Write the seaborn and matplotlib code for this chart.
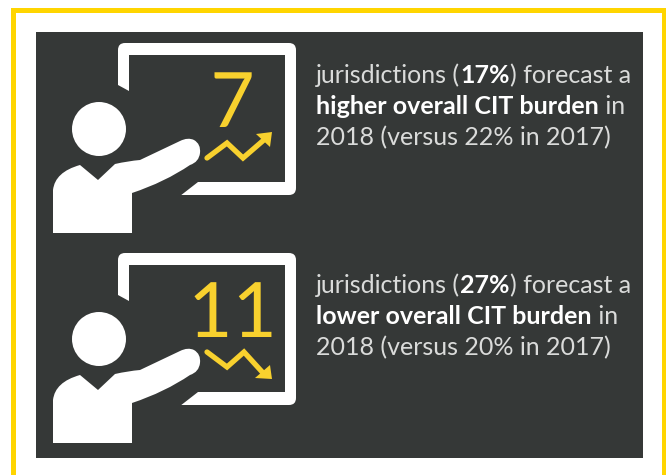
import matplotlib
matplotlib.use('Agg')
import matplotlib.pyplot as plt
import matplotlib.patheffects as pe
from matplotlib.patches import Circle, FancyBboxPatch, PathPatch, Polygon, Rectangle
from matplotlib.path import Path
import seaborn as sns

# --- Data ---
counts = ['7', '11']
pct_2018 = [17, 27]
pct_2017 = [22, 20]
directions = ['higher', 'lower']

up_x = [207, 227, 243, 265]
up_y = [158, 143, 158, 139]
down_x = [207, 227, 244, 264]
down_y = [352, 367, 352, 374]

DARK = '#353837'
YELLOW = '#F8D12E'
BORDER = '#FFD500'
TEXT = '#DADBDA'
ROW_STEP = 210
TEXT_SIZE = 18

sns.set_theme(style='white')
plt.rcParams['font.family'] = ['Lato', 'DejaVu Sans']

fig = plt.figure(figsize=(6.66, 4.75), dpi=100, facecolor='white')
ax = fig.add_axes([0, 0, 1, 1])
ax.set_xlim(0, 666)
ax.set_ylim(475, 0)
ax.axis('off')

# Yellow frame, open at the bottom, and the dark panel
ax.add_patch(Rectangle((11, 8), 655, 5, color=BORDER, lw=0))
ax.add_patch(Rectangle((11, 8), 5, 467, color=BORDER, lw=0))
ax.add_patch(Rectangle((662, 8), 4, 467, color=BORDER, lw=0))
ax.add_patch(Rectangle((36, 32), 607, 426, color=DARK, lw=0))


def draw_icon(dy):
    # Board outline, cut away around the presenter
    ax.add_patch(FancyBboxPatch((122, 47 + dy), 170, 144, boxstyle='round,pad=4,rounding_size=7',
                                fc='white', ec='none', zorder=2))
    ax.add_patch(Rectangle((129, 55 + dy), 156, 127, color=DARK, lw=0, zorder=3))
    ax.add_patch(Polygon([(110, 85 + dy), (118, 85 + dy), (129, 91 + dy), (129, 182 + dy),
                          (198, 182 + dy), (180, 196 + dy), (110, 200 + dy)],
                         color=DARK, lw=0, zorder=3))
    # Presenter
    ax.add_patch(Circle((99, 129 + dy), 27, fc='white', ec='none', zorder=4))
    verts = [(53, 233), (53, 190), (55, 172), (80, 165), (98, 180), (115, 164), (128, 161),
             (140, 160), (180, 141), (188, 137), (194, 140), (201, 144), (200, 153), (199, 162),
             (190, 165), (165, 182), (132, 193), (132, 233), (53, 233)]
    codes = [Path.MOVETO, Path.LINETO, Path.CURVE3, Path.CURVE3, Path.LINETO, Path.LINETO,
             Path.CURVE3, Path.CURVE3, Path.LINETO, Path.CURVE3, Path.CURVE3, Path.CURVE3,
             Path.CURVE3, Path.CURVE3, Path.CURVE3, Path.CURVE3, Path.CURVE3, Path.LINETO,
             Path.CLOSEPOLY]
    verts = [(x, y + dy) for x, y in verts]
    ax.add_patch(PathPatch(Path(verts, codes), fc='white', ec='none', zorder=4))


def text_width(piece, weight):
    # Measure between two x's so that spaces at the ends of a piece still count
    renderer = fig.canvas.get_renderer()
    full = ax.text(0, 0, 'x' + piece + 'x', fontsize=TEXT_SIZE, fontweight=weight)
    ends = ax.text(0, 0, 'xx', fontsize=TEXT_SIZE, fontweight=weight)
    width = full.get_window_extent(renderer).width - ends.get_window_extent(renderer).width
    full.remove()
    ends.remove()
    return width


def draw_runs(x, y, runs):
    # Place regular and bold pieces one after another on a line
    for piece, weight, color in runs:
        ax.text(x, y, piece, fontsize=TEXT_SIZE, fontweight=weight, color=color,
                va='baseline', ha='left', zorder=5)
        x += text_width(piece, weight)


for i in range(2):
    dy = i * ROW_STEP
    draw_icon(dy)

    # Big number on the board
    ax.text(232.5, 127 + dy, counts[i], fontsize=55, color=YELLOW, ha='center', va='baseline',
            zorder=5, path_effects=[pe.withStroke(linewidth=1.5 if i == 0 else 3.5, foreground=DARK)])

    # Trend arrow
    tx, ty = (up_x, up_y) if i == 0 else (down_x, down_y)
    sns.lineplot(x=tx, y=ty, ax=ax, color=YELLOW, linewidth=3.8, sort=False, estimator=None,
                 legend=False, zorder=5, solid_joinstyle='miter')
    if i == 0:
        head = [(272, 132), (256, 134), (270, 147)]
    else:
        head = [(272, 379), (255, 378), (270, 365)]
    ax.add_patch(Polygon(head, color=YELLOW, lw=0, zorder=5))

    # Caption
    draw_runs(316, 83 + dy, [('jurisdictions (', 'normal', TEXT),
                             (f'{pct_2018[i]}%', 'bold', 'white'),
                             (') forecast a', 'normal', TEXT)])
    draw_runs(316, 114 + dy, [(f'{directions[i]} overall CIT burden', 'bold', 'white'),
                              (' in', 'normal', TEXT)])
    draw_runs(316, 145 + dy, [(f'2018 (versus {pct_2017[i]}% in 2017)', 'normal', TEXT)])

ax.set_xlim(0, 666)
ax.set_ylim(475, 0)
fig.savefig('out.png', dpi=100, facecolor='white')
